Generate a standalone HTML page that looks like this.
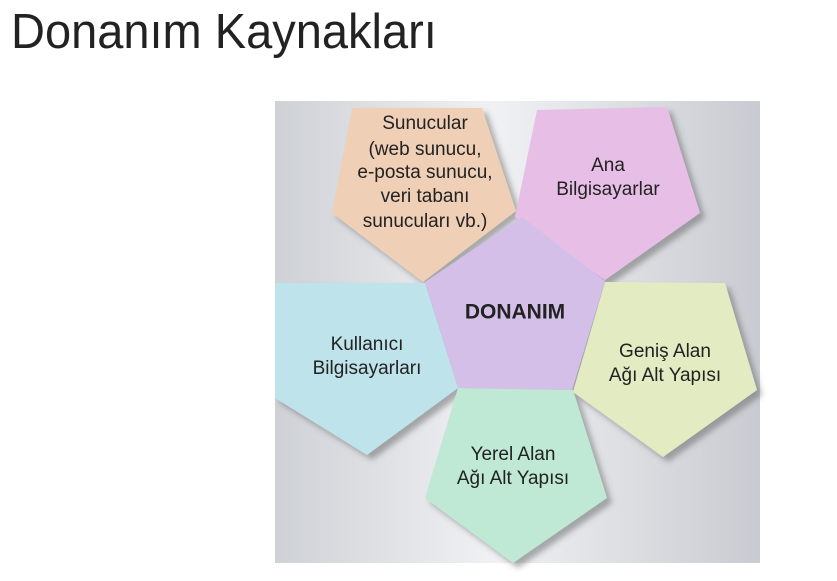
<!DOCTYPE html>
<html><head><meta charset="utf-8"><style>
html,body{margin:0;padding:0;background:#fff;width:837px;height:581px;overflow:hidden}
.t{position:absolute;left:11px;top:2px;font-family:"Liberation Sans",sans-serif;font-size:47px;font-weight:300;color:#222;transform:scaleY(1.05);transform-origin:0 0;white-space:nowrap}
svg{position:absolute;left:0;top:0}
text{font-family:"Liberation Sans",sans-serif;font-size:19px;fill:#222;text-anchor:middle;dominant-baseline:middle}
</style></head><body>
<div class="t">Donanım Kaynakları</div>
<svg width="837" height="581">
<defs>
<linearGradient id="bg" x1="0" x2="1" y1="0" y2="0">
<stop offset="0" stop-color="#ced1d6"/><stop offset="0.45" stop-color="#f0f1f3"/><stop offset="1" stop-color="#c8cbd1"/>
</linearGradient>
<filter id="sh" x="-20%" y="-20%" width="150%" height="150%"><feDropShadow dx="5" dy="5" stdDeviation="3" flood-color="#555" flood-opacity="0.45"/></filter>
</defs>
<rect x="275" y="101" width="485" height="462" fill="url(#bg)"/>
<g filter="url(#sh)">
<polygon points="352,108 482,108 516,211 423,282 332,213" fill="#efcfb6"/>
<polygon points="537,110 667,107 700,213 605,280 515,217" fill="#e7bfe6"/>
<polygon points="275,283 425,283 458,388 367,455 275,398" fill="#bfe3ea"/>
<polygon points="605,282 725,283 757,390 663,457 573,392" fill="#e3ebc2"/>
<polygon points="458,388 573,390 607,498 513,563 425,498" fill="#bfe8d5"/>
<polygon points="522,217 605,281 572,390 458,388 425,282" fill="#d4bfe8"/>
</g>
<text x="425" y="124">Sunucular</text>
<text x="425" y="150">(web sunucu,</text>
<text x="425" y="173">e-posta sunucu,</text>
<text x="425" y="197">veri tabanı</text>
<text x="425" y="222">sunucuları vb.)</text>
<text x="608" y="166">Ana</text>
<text x="608" y="190">Bilgisayarlar</text>
<text x="515" y="313" style="font-weight:bold;font-size:21px">DONANIM</text>
<text x="367" y="345">Kullanıcı</text>
<text x="367" y="369">Bilgisayarları</text>
<text x="665" y="352">Geniş Alan</text>
<text x="665" y="376">Ağı Alt Yapısı</text>
<text x="513" y="455">Yerel Alan</text>
<text x="513" y="479">Ağı Alt Yapısı</text>
</svg>
</body></html>
